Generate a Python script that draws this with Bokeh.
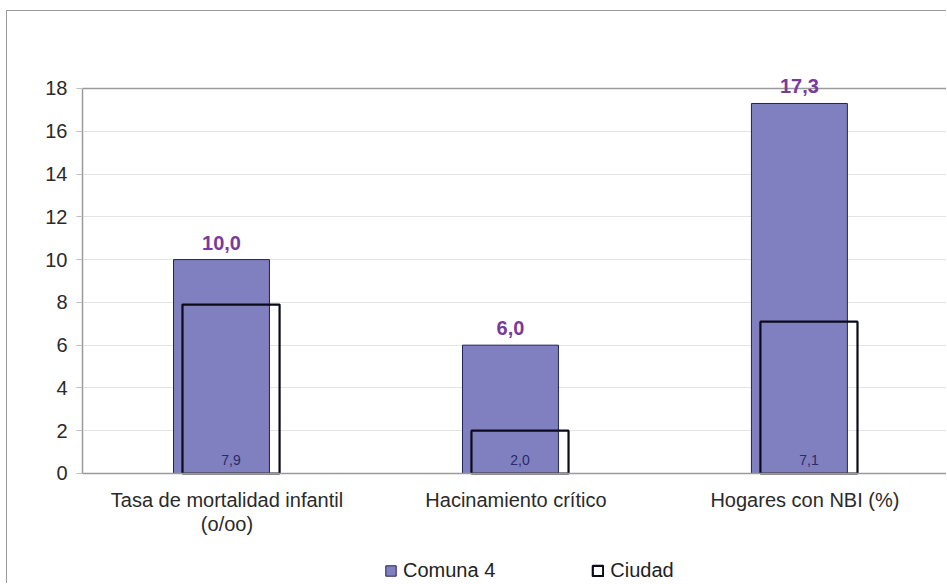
from bokeh.plotting import figure
from bokeh.models import (ColumnDataSource, FixedTicker, LabelSet, Legend, LegendItem,
                          Range1d, Span)
from bokeh.core.properties import value
from bokeh.embed import file_html
from bokeh.resources import INLINE

categories = ["Tasa de mortalidad infantil\n(o/oo)", "Hacinamiento crítico", "Hogares con NBI (%)"]
comuna4 = [10.0, 6.0, 17.3]
ciudad = [7.9, 2.0, 7.1]
y_ticks = [0, 2, 4, 6, 8, 10, 12, 14, 16, 18]

FONT = "Liberation Sans"

idx = list(range(len(categories)))
fmt = lambda v: f"{v:.1f}".replace(".", ",")

src_c = ColumnDataSource(dict(
    x=[i + 0.481 for i in idx], top=comuna4, lab=[fmt(v) for v in comuna4]))
src_k = ColumnDataSource(dict(
    x=[i + 0.514 for i in idx], top=ciudad, lab=[fmt(v) for v in ciudad],
    y0=[0] * len(ciudad)))
src_cat = ColumnDataSource(dict(x=[i + 0.5 for i in idx], y=[0] * len(idx), t=categories))

p = figure(frame_width=864, frame_height=515, output_backend="svg", toolbar_location=None,
           x_range=Range1d(0, 2.99), y_range=Range1d(-5.143, 18.935),
           min_border_left=75, min_border_right=0, min_border_top=57,
           min_border_bottom=0)
p.styles = {"border-top": "1px solid #9a9a9a", "border-left": "1px solid #9a9a9a",
            "margin-left": "6px", "margin-top": "10px"}
p.background_fill_color = "white"
p.border_fill_color = "white"
p.outline_line_color = None

# grid
p.xgrid.visible = False
p.ygrid.ticker = FixedTicker(ticks=y_ticks)
p.ygrid.grid_line_color = "#e4e4e4"
p.ygrid.grid_line_width = 1

r1 = p.vbar(x="x", top="top", width=0.332, bottom=0, source=src_c,
            fill_color="#8080c0", line_color="#22225a", line_width=1)
r2 = p.vbar(x="x", top="top", width=0.336, bottom=0, source=src_k,
            fill_alpha=0, line_color="#0a0a1a", line_width=2.2)

# plot-area top and base lines
p.add_layout(Span(location=y_ticks[-1], dimension="width", line_color="#9a9a9a", line_width=1.5))
p.add_layout(Span(location=y_ticks[0], dimension="width", line_color="#9a9a9a", line_width=1.5))

# y axis
p.yaxis.ticker = FixedTicker(ticks=y_ticks)
p.yaxis.bounds = (y_ticks[0], y_ticks[-1])
p.yaxis.axis_line_color = "#9a9a9a"
p.yaxis.axis_line_width = 1.5
p.yaxis.major_tick_line_color = "#bdbdbd"
p.yaxis.major_tick_out = 6
p.yaxis.major_tick_in = 0
p.yaxis.minor_tick_line_color = None
p.yaxis.major_label_text_font = FONT
p.yaxis.major_label_text_font_size = "20px"
p.yaxis.major_label_text_color = "#2a2a2a"
p.yaxis.major_label_standoff = 9

p.xaxis.visible = False

# category labels
p.text(x="x", y="y", text="t", source=src_cat, text_align="center", text_baseline="top",
       y_offset=16, text_font=value(FONT), text_font_size="20px", text_line_height=1.05,
       text_color="#2a2a2a")

# value labels
lab_c = LabelSet(x="x", y="top", text="lab", source=src_c, text_align="center",
                 text_baseline="bottom", y_offset=10, text_font=value(FONT),
                 text_font_size="20px", text_font_style="bold", text_color="#7a3a9c")
lab_k = LabelSet(x="x", y="y0", text="lab", source=src_k, text_align="center",
                 text_baseline="middle", y_offset=13, text_font=value(FONT),
                 text_font_size="14px", text_color="#2a2a66")
p.add_layout(lab_c)
p.add_layout(lab_k)

legend = Legend(items=[LegendItem(label="Comuna 4", renderers=[r1]),
                       LegendItem(label="Ciudad", renderers=[r2])],
                orientation="horizontal", location=(302, 1),
                label_text_font=FONT, label_text_font_size="20px",
                label_text_color="#222222", glyph_width=13, glyph_height=13,
                label_height=18, spacing=96, padding=0, margin=0, label_standoff=6,
                background_fill_alpha=0, border_line_color=None)
p.add_layout(legend, "center")

open("out.html", "w").write(file_html(p, INLINE))
